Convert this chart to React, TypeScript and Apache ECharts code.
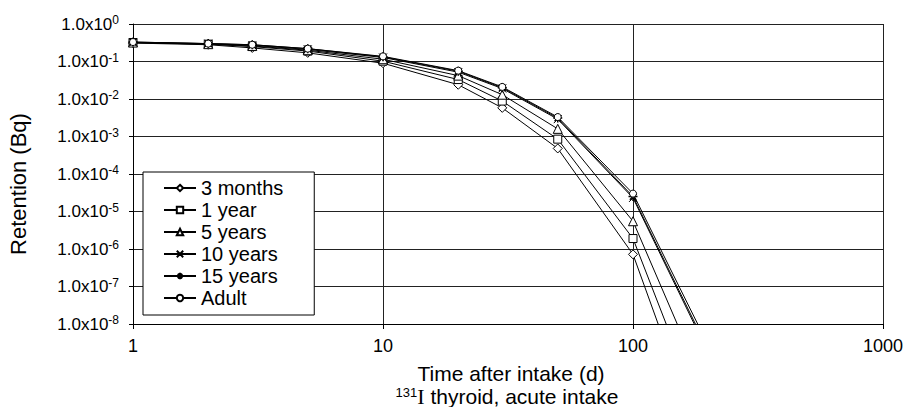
import React, { useEffect, useRef } from "react";
import * as echarts from "echarts";

const days = [1, 2, 3, 5, 10, 20, 30, 50, 100, 200];
const seriesNames = ["3 months", "1 year", "5 years", "10 years", "15 years", "Adult"];
const months3 = [0.31, 0.28, 0.23, 0.17, 0.09, 0.024, 0.0058, 0.00048, 7.2e-7, 2e-12];
const year1 = [0.32, 0.29, 0.25, 0.19, 0.102, 0.033, 0.0088, 0.00085, 1.9e-6, 1.3e-11];
const years5 = [0.32, 0.29, 0.26, 0.2, 0.115, 0.042, 0.013, 0.0016, 5.5e-6, 1.2e-10];
const years10 = [0.32, 0.3, 0.27, 0.21, 0.128, 0.052, 0.019, 0.0029, 2.3e-5, 1.7e-9];
const years15 = [0.33, 0.3, 0.28, 0.22, 0.133, 0.055, 0.02, 0.0031, 2.5e-5, 2e-9];
const adult = [0.33, 0.3, 0.28, 0.22, 0.137, 0.057, 0.021, 0.0033, 3e-5, 2.7e-9];
const xTickValues = [1, 10, 100, 1000];
const yMin = 1e-8;
const yMax = 1;

const seriesValues = [months3, year1, years5, years10, years15, adult];
const symbols = [
  "diamond",
  "rect",
  "triangle",
  "path://M0,0L10,10M10,0L0,10",
  "path://M0,5L10,5M5,0L5,10M1.5,1.5L8.5,8.5M8.5,1.5L1.5,8.5",
  "circle",
];
const symbolSizes = [9, 8, 9, 8, 9, 7];

const FONT = "'Liberation Sans', Arial, sans-serif";

export default function App() {
  const ref = useRef<HTMLDivElement>(null);
  useEffect(() => {
    if (!ref.current) return;
    const chart = echarts.init(ref.current, null, { renderer: "svg" });
    const series = seriesNames.map((name, i) => ({
      name,
      type: "line",
      data: days.map((d, j) => [d, seriesValues[i][j]]),
      symbol: symbols[i],
      symbolSize: symbolSizes[i],
      showAllSymbol: true,
      clip: true,
      lineStyle: { color: "#000", width: 1 },
      itemStyle: {
        color: i === 4 ? "#000" : "#fff",
        borderColor: "#000",
        borderWidth: i === 4 ? 1.5 : 1,
      },
      emphasis: { disabled: true },
      z: 2 + i,
    }));
    chart.setOption({
      animation: false,
      backgroundColor: "#fff",
      textStyle: { fontFamily: FONT },
      grid: { left: 133, right: 26, top: 24, bottom: 83, containLabel: false },
      xAxis: {
        type: "log",
        logBase: 10,
        min: xTickValues[0],
        max: xTickValues[xTickValues.length - 1],
        axisLine: { show: true, lineStyle: { color: "#000", width: 1 } },
        axisTick: { show: true, length: 5, lineStyle: { color: "#000" } },
        minorTick: { show: false },
        splitLine: { show: true, lineStyle: { color: "#222", width: 1 } },
        axisLabel: {
          color: "#000",
          fontSize: 18,
          fontFamily: FONT,
          margin: 13,
          formatter: (v: number) => String(Math.round(v)),
        },
      },
      yAxis: {
        type: "log",
        logBase: 10,
        min: yMin,
        max: yMax,
        axisLine: { show: true, lineStyle: { color: "#000", width: 1 } },
        axisTick: { show: true, length: 4, lineStyle: { color: "#000" } },
        splitLine: { show: true, lineStyle: { color: "#222", width: 1 } },
        axisLabel: {
          color: "#000",
          margin: 14,
          formatter: (v: number) => {
            const e = Math.round(Math.log10(v));
            return "{b|1.0x10}{s|" + e + "}";
          },
          rich: {
            b: { fontSize: 17, fontFamily: FONT, color: "#000", lineHeight: 20 },
            s: { fontSize: 12, fontFamily: FONT, color: "#000", lineHeight: 12, verticalAlign: "top" },
          },
        },
      },
      legend: {
        orient: "vertical",
        left: 143,
        top: 172,
        padding: [6, 31, 7, 20],
        itemGap: 2,
        itemWidth: 32,
        itemHeight: 8,
        backgroundColor: "#fff",
        borderColor: "#000",
        borderWidth: 1,
        borderRadius: 0,
        selectedMode: false,
        textStyle: { color: "#000", fontSize: 20, fontFamily: FONT, padding: [0, 0, 0, 0] },
        data: seriesNames,
      },
      graphic: [
        {
          type: "text",
          x: 18,
          y: 184,
          rotation: Math.PI / 2,
          style: {
            text: "Retention (Bq)",
            font: "22px " + FONT,
            fill: "#000",
            align: "center",
            verticalAlign: "middle",
          },
        },
        {
          type: "text",
          x: 511,
          y: 373,
          style: {
            text: "Time after intake (d)",
            font: "21px " + FONT,
            fill: "#000",
            align: "center",
            verticalAlign: "middle",
          },
        },
        {
          type: "text",
          x: 507,
          y: 396,
          style: {
            text: "{s|131}{i|I}{t| thyroid, acute intake}",
            fill: "#000",
            align: "center",
            verticalAlign: "middle",
            rich: {
              s: { fontSize: 13, fontFamily: FONT, lineHeight: 13, verticalAlign: "top", fill: "#000" },
              i: { fontSize: 22, fontFamily: "'Liberation Serif', serif", lineHeight: 21, fill: "#000" },
              t: { fontSize: 21, fontFamily: FONT, lineHeight: 21, fill: "#000" },
            },
          },
        },
      ],
      series,
    });
    return () => chart.dispose();
  }, []);
  return (
    <div
      ref={ref}
      style={{ position: "fixed", left: 0, top: 0, width: 909, height: 407, background: "#fff" }}
    />
  );
}
